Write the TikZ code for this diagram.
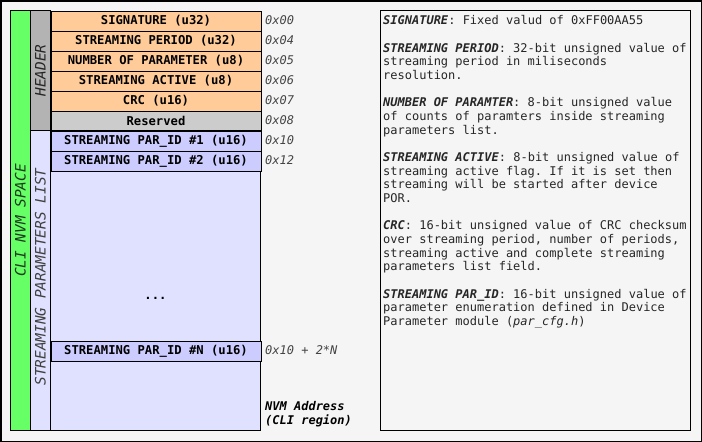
\documentclass[tikz,border=0pt]{standalone}
\usepackage{fontspec}
\setmonofont{DejaVu Sans Mono}
\definecolor{bgc}{HTML}{F5F5F5}
\definecolor{greenc}{HTML}{66FF66}
\definecolor{hdrc}{HTML}{B3B3B3}
\definecolor{resc}{HTML}{CCCCCC}
\definecolor{orc}{HTML}{FFCC99}
\definecolor{parc}{HTML}{CCCCFF}
\definecolor{lavc}{HTML}{E0E0FF}
\definecolor{offc}{HTML}{444444}
\definecolor{gtxt}{HTML}{1E3A1E}
\tikzset{
  cell/.style={draw=black, line width=1pt, anchor=north west, minimum width=210pt, minimum height=20pt, inner sep=0pt, font=\ttfamily\bfseries\fontsize{12.2}{13}\selectfont},
  hcell/.style={cell, fill=orc},
  pcell/.style={cell, fill=parc},
  offs/.style={anchor=west, inner sep=0pt, text=offc, font=\ttfamily\itshape\fontsize{12}{13}\selectfont},
  vlab/.style={rotate=90, inner sep=0pt, font=\ttfamily\itshape\fontsize{14.4}{15}\selectfont}
}
\newcommand{\kw}[1]{\textbf{\textit{#1}}}
\begin{document}
\begin{tikzpicture}[x=1pt,y=-1pt]
\useasboundingbox (0,0) rectangle (702,442);
\fill[bgc] (0,0) rectangle (702,442);
\draw[line width=1.5pt] (0.75,0.75) rectangle (701.25,441.25);
% columns
\draw[line width=1pt, fill=greenc] (10.5,10.5) rectangle (30.5,430.5);
\draw[line width=1pt, fill=hdrc] (30.5,10.5) rectangle (50.5,130.5);
\draw[line width=1pt, fill=lavc] (30.5,130.5) rectangle (50.5,430.5);
\node[vlab, text=gtxt] (cli) at (20.5,220.5) {CLI NVM SPACE};
\node[vlab, text=black!85] (hdr) at (40.5,70.5) {HEADER};
\node[vlab, text=black!75] (spl) at (40.5,277) {STREAMING PARAMETERS LIST};
% header rows
\node[hcell] (r0) at (50.5,10.5) {SIGNATURE (u32)};
\node[hcell] (r1) at (50.5,30.5) {STREAMING PERIOD (u32)};
\node[hcell] (r2) at (50.5,50.5) {NUMBER OF PARAMETER (u8)};
\node[hcell] (r3) at (50.5,70.5) {STREAMING ACTIVE (u8)};
\node[hcell] (r4) at (50.5,90.5) {CRC (u16)};
\node[cell, fill=resc] (r5) at (50.5,110.5) {Reserved};
% list area
\draw[line width=1pt, fill=lavc] (50.5,130.5) rectangle (260.5,430.5);
\node[pcell] (p1) at (50.5,130.5) {STREAMING PAR\_ID \#1 (u16)};
\node[pcell] (p2) at (50.5,150.5) {STREAMING PAR\_ID \#2 (u16)};
\node[pcell] (pn) at (50.5,340.5) {STREAMING PAR\_ID \#N (u16)};
\node[inner sep=0pt, font=\ttfamily\bfseries\fontsize{12.2}{13}\selectfont] (dots) at (155.5,298) {...};
% offsets
\node[offs] (o0) at (265,20.5) {0x00};
\node[offs] (o1) at (265,40.5) {0x04};
\node[offs] (o2) at (265,60.5) {0x05};
\node[offs] (o3) at (265,80.5) {0x06};
\node[offs] (o4) at (265,100.5) {0x07};
\node[offs] (o5) at (265,120.5) {0x08};
\node[offs] (o6) at (265,140.5) {0x10};
\node[offs] (o7) at (265,160.5) {0x12};
\node[offs] (o8) at (265,350.5) {0x10 + 2*N};
\node[anchor=west, inner sep=0pt, align=left, font=\ttfamily\bfseries\itshape\fontsize{12}{14.5}\selectfont] (nvm) at (265,414) {NVM Address\\(CLI region)};
% description box
\draw[line width=1pt] (380.5,10.5) rectangle (690.5,430.5);
\node[anchor=north west, inner sep=0pt, align=left, text=black!85, font=\ttfamily\fontsize{12}{13.68}\selectfont] (desc) at (383,15.3) {%
\kw{SIGNATURE}: Fixed valud of 0xFF00AA55\\[13.68pt]
\kw{STREAMING PERIOD}: 32-bit unsigned value of\\
streaming period in miliseconds\\
resolution.\\[13.68pt]
\kw{NUMBER OF PARAMTER}: 8-bit unsigned value\\
of counts of paramters inside streaming\\
parameters list.\\[13.68pt]
\kw{STREAMING ACTIVE}: 8-bit unsigned value of\\
streaming active flag. If it is set then\\
streaming will be started after device\\
POR.\\[13.68pt]
\kw{CRC}: 16-bit unsigned value of CRC checksum\\
over streaming period, number of periods,\\
streaming active and complete streaming\\
parameters list field.\\[13.68pt]
\kw{STREAMING PAR\_ID}: 16-bit unsigned value of\\
parameter enumeration defined in Device\\
Parameter module (\textit{par\_cfg.h})};
\end{tikzpicture}
\end{document}
